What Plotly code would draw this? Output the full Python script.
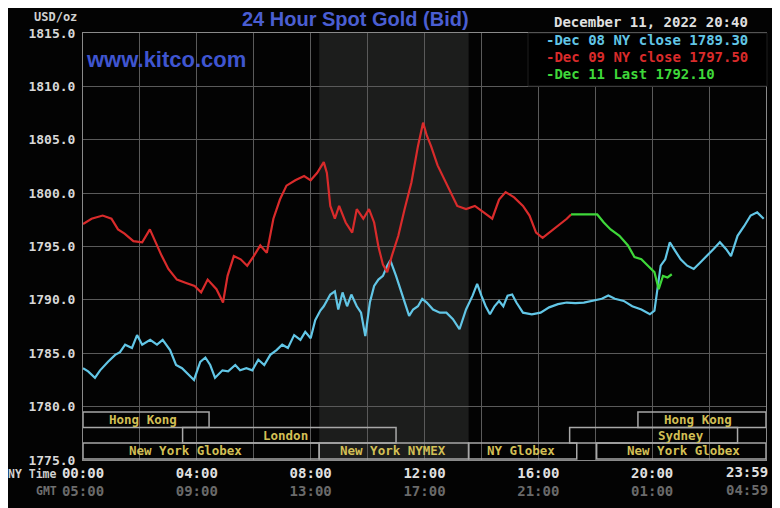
import plotly.graph_objects as go

# ---------------- data ----------------
cyan_h = [0.00, 0.18, 0.42, 0.60, 0.88, 1.13, 1.30, 1.48, 1.72, 1.90, 2.08, 2.36, 2.60, 2.80, 3.06, 3.27, 3.48, 3.70, 3.90,
          4.12, 4.30, 4.47, 4.64, 4.90, 5.10, 5.35, 5.52, 5.74, 5.95, 6.16, 6.37, 6.58, 6.80, 7.00, 7.20, 7.42, 7.64, 7.81,
          8.00, 8.16, 8.34, 8.46, 8.69, 8.85, 8.97, 9.12, 9.28, 9.43, 9.62, 9.77, 9.92, 10.08, 10.23, 10.38, 10.54, 10.69,
          10.80, 11.00, 11.15, 11.30, 11.46, 11.60, 11.77, 11.92, 12.08, 12.30, 12.54, 12.77, 13.00, 13.23, 13.46, 13.69,
          13.85, 14.00, 14.15, 14.30, 14.46, 14.62, 14.77, 14.92, 15.08, 15.23, 15.46, 15.77, 16.08, 16.38, 16.69, 17.00,
          17.30, 17.60, 17.90, 18.23, 18.46, 18.69, 19.00, 19.30, 19.62, 19.92, 20.08, 20.15, 20.30, 20.46, 20.62, 20.77,
          21.00, 21.23, 21.46, 21.69, 21.92, 22.15, 22.38, 22.60, 22.77, 23.00, 23.23, 23.46, 23.69, 23.92]
cyan_v = [1783.6, 1783.3, 1782.7, 1783.4, 1784.2, 1784.85, 1785.1, 1785.8, 1785.5, 1786.7, 1785.8, 1786.25, 1785.8, 1786.25,
          1785.3, 1783.9, 1783.6, 1783.0, 1782.5, 1784.2, 1784.6, 1783.9, 1782.7, 1783.4, 1783.3, 1783.9, 1783.4, 1783.6,
          1783.4, 1784.4, 1783.9, 1784.85, 1785.3, 1785.8, 1785.5, 1786.7, 1786.25, 1787.0, 1786.4, 1788.1, 1789.0, 1789.4,
          1790.5, 1790.8, 1789.1, 1790.7, 1789.4, 1790.5, 1789.4, 1788.8, 1786.6, 1789.75, 1791.3, 1791.9, 1792.25, 1793.2,
          1793.7, 1792.25, 1791.0, 1789.75, 1788.5, 1789.1, 1789.4, 1790.1, 1789.75, 1789.1, 1788.8, 1788.8, 1788.2, 1787.25,
          1789.1, 1790.4, 1791.5, 1790.4, 1789.4, 1788.65, 1789.4, 1789.9, 1789.4, 1790.4, 1790.5, 1789.75, 1788.8, 1788.65,
          1788.8, 1789.3, 1789.6, 1789.75, 1789.7, 1789.75, 1789.9, 1790.1, 1790.4, 1790.1, 1789.9, 1789.4, 1789.1, 1788.65,
          1789.0, 1790.4, 1793.2, 1793.8, 1795.4, 1794.75, 1793.8, 1793.2, 1792.9, 1793.5, 1794.1, 1794.75, 1795.4, 1794.75,
          1794.1, 1796.0, 1796.9, 1797.9, 1798.2, 1797.6]

red_h = [0.00, 0.30, 0.69, 1.00, 1.23, 1.46, 1.77, 2.08, 2.35, 2.54, 2.77, 3.00, 3.30, 3.60, 3.92, 4.15, 4.38, 4.69, 4.92,
         5.08, 5.30, 5.54, 5.77, 6.00, 6.23, 6.46, 6.69, 6.92, 7.15, 7.46, 7.77, 8.00, 8.23, 8.46, 8.57, 8.69, 8.85, 9.00,
         9.23, 9.46, 9.62, 9.85, 10.05, 10.23, 10.38, 10.54, 10.69, 10.85, 11.08, 11.30, 11.54, 11.77, 11.95, 12.08, 12.23,
         12.46, 12.69, 12.92, 13.15, 13.46, 13.77, 14.08, 14.38, 14.62, 14.85, 15.15, 15.46, 15.69, 15.92, 16.15, 16.38,
         16.69, 17.00, 17.15]
red_v = [1797.1, 1797.6, 1797.9, 1797.6, 1796.6, 1796.2, 1795.5, 1795.4, 1796.6, 1795.4, 1794.1, 1792.9, 1791.9, 1791.6,
         1791.3, 1790.7, 1791.9, 1791.0, 1789.75, 1792.25, 1794.1, 1793.8, 1793.2, 1794.1, 1795.1, 1794.4, 1797.6, 1799.4,
         1800.7, 1801.2, 1801.6, 1801.2, 1801.9, 1802.9, 1801.9, 1798.8, 1797.6, 1798.8, 1797.25, 1796.3, 1798.5, 1797.6,
         1798.5, 1797.25, 1795.0, 1793.3, 1792.6, 1794.1, 1796.0, 1798.5, 1801.0, 1804.4, 1806.6, 1805.4, 1804.4, 1802.6,
         1801.3, 1800.1, 1798.8, 1798.5, 1798.8, 1798.2, 1797.6, 1799.4, 1800.1, 1799.6, 1798.8, 1797.9, 1796.3, 1795.8,
         1796.3, 1796.9, 1797.6, 1798.0]

green_h = [17.15, 17.50, 17.80, 18.07, 18.30, 18.54, 18.85, 19.15, 19.38, 19.62, 19.85, 20.08, 20.23, 20.38, 20.54, 20.69]
green_v = [1798.0, 1798.0, 1798.0, 1798.0, 1797.25, 1796.6, 1796.0, 1795.1, 1794.0, 1793.8, 1793.2, 1792.6, 1791.0,
           1792.25, 1792.1, 1792.4]

y_ticks = [1775, 1780, 1785, 1790, 1795, 1800, 1805, 1810, 1815]
x_tick_hours = [0, 4, 8, 12, 16, 20]
x_tick_ny = ["00:00", "04:00", "08:00", "12:00", "16:00", "20:00"]
x_tick_gmt = ["05:00", "09:00", "13:00", "17:00", "21:00", "01:00"]
x_end_ny, x_end_gmt = "23:59", "04:59"

legend_lines = ["December 11, 2022 20:40", "-Dec 08 NY close 1789.30", "-Dec 09 NY close 1797.50", "-Dec 11 Last 1792.10"]

# sessions: name, start hour, end hour, row, label hour
sess_name = ["Hong Kong", "Hong Kong", "London", "Sydney", "New York Globex", "New York NYMEX", "NY Globex", "New York Globex"]
sess_start = [0.0, 19.5, 3.5, 17.1, 0.0, 8.3, 13.55, 18.05]
sess_end = [4.43, 24.0, 11.0, 23.0, 8.3, 13.55, 17.35, 24.0]
sess_row = [1, 1, 2, 2, 3, 3, 3, 3]
sess_label_at = [2.1, 21.6, 7.1, 21.0, 3.6, 10.9, 15.4, 21.1]

comex_start, comex_end = 8.3, 13.55

# ---------------- layout helpers ----------------
OFF = 8  # page body margin
W, H = 780 - OFF, 508 - OFF
L, R, T, B = 83 - OFF, 14, 33 - OFF, 48
PW, PH = W - L - R, H - T - B


def px(x):
    return (x - OFF - L) / PW


def py(y):
    return (H - B - (y - OFF)) / PH


row_bounds = {1: (1778.05, 1779.5), 2: (1776.6, 1778.05), 3: (1775.1, 1776.6)}

fig = go.Figure()

fig.add_trace(go.Scatter(x=cyan_h, y=cyan_v, mode="lines", line=dict(color="#62c6e6", width=2.2), name="Dec 08"))
fig.add_trace(go.Scatter(x=red_h, y=red_v, mode="lines", line=dict(color="#d92b2b", width=2.2), name="Dec 09"))
fig.add_trace(go.Scatter(x=green_h, y=green_v, mode="lines", line=dict(color="#3fd83a", width=2.2), name="Dec 11"))

shapes = []
shapes.append(dict(type="rect", xref="x", yref="y", x0=comex_start, x1=comex_end, y0=1775, y1=1815,
                   fillcolor="#1c1d1c", line=dict(width=0), layer="below"))
annotations = []
for n, s, e, r, la in zip(sess_name, sess_start, sess_end, sess_row, sess_label_at):
    y0, y1 = row_bounds[r]
    shapes.append(dict(type="rect", xref="x", yref="y", x0=s, x1=e, y0=y0, y1=y1,
                       line=dict(color="#a8a8a8", width=1.5), fillcolor="rgba(0,0,0,0)", layer="above"))
    annotations.append(dict(x=la, y=(y0 + y1) / 2, xref="x", yref="y", text=n, showarrow=False,
                            font=dict(family="DejaVu Sans Mono", size=12.5, color="#d2bf55", weight="bold")))
shapes.append(dict(type="rect", xref="paper", yref="paper", x0=px(528), x1=px(767), y0=py(86), y1=py(33),
                   fillcolor="#000000", line=dict(color="#1e1e1e", width=1), layer="above"))

leg_colors = ["#e0e0e0", "#62c6e6", "#d92b2b", "#3fd83a"]
leg_y = [22, 40, 57, 74]
leg_x = [552, 544, 544, 544]
for t, c, yy, xx in zip(legend_lines, leg_colors, leg_y, leg_x):
    annotations.append(dict(x=px(xx), y=py(yy), xref="paper", yref="paper", text=t, showarrow=False,
                            xanchor="left", yanchor="middle",
                            font=dict(family="DejaVu Sans Mono", size=14, color=c, weight="bold")))

annotations += [
    dict(x=px(355), y=py(19), xref="paper", yref="paper", text="24 Hour Spot Gold (Bid)", showarrow=False,
         xanchor="center", yanchor="middle",
         font=dict(family="Liberation Sans", size=20, color="#4a5ed2", weight="bold")),
    dict(x=px(84), y=py(60), xref="paper", yref="paper", text="www.kitco.com", showarrow=False,
         xanchor="left", yanchor="middle",
         font=dict(family="Liberation Sans", size=22, color="#3f55d0", weight="bold")),
    dict(x=px(79), y=py(17), xref="paper", yref="paper", text="USD/oz", showarrow=False,
         xanchor="right", yanchor="middle",
         font=dict(family="DejaVu Sans Mono", size=12, color="#d0d0d0", weight="bold")),
    dict(x=px(59), y=py(474), xref="paper", yref="paper", text="NY Time", showarrow=False,
         xanchor="right", yanchor="middle",
         font=dict(family="DejaVu Sans Mono", size=11.5, color="#d0d0d0", weight="bold")),
    dict(x=px(59), y=py(491), xref="paper", yref="paper", text="GMT", showarrow=False,
         xanchor="right", yanchor="middle",
         font=dict(family="DejaVu Sans Mono", size=11.5, color="#707070", weight="bold")),
    dict(x=px(770), y=py(472), xref="paper", yref="paper", text=x_end_ny, showarrow=False,
         xanchor="right", yanchor="middle",
         font=dict(family="DejaVu Sans Mono", size=14, color="#e0e0e0", weight="bold")),
    dict(x=px(770), y=py(490), xref="paper", yref="paper", text=x_end_gmt, showarrow=False,
         xanchor="right", yanchor="middle",
         font=dict(family="DejaVu Sans Mono", size=14, color="#6a6a6a", weight="bold")),
]

xt_text = [f"{a}<br><span style='color:#6a6a6a'>{b}</span>" for a, b in zip(x_tick_ny, x_tick_gmt)]

fig.update_layout(
    width=W, height=H,
    margin=dict(l=L, r=R, t=T, b=B, pad=0, autoexpand=False),
    paper_bgcolor="#030303", plot_bgcolor="#030303",
    showlegend=False,
    shapes=shapes, annotations=annotations,
    xaxis=dict(range=[0, 24], tickvals=x_tick_hours, ticktext=xt_text, showgrid=True, gridcolor="#5a5a5a", gridwidth=1,
               minor=dict(tickvals=list(range(2, 24, 4)), showgrid=True, gridcolor="#5a5a5a", gridwidth=1, ticks=""),
               zeroline=False, showline=True, linecolor="#8a8a8a", mirror=True, ticks="",
               automargin=False,
               tickfont=dict(family="DejaVu Sans Mono", size=14, color="#e0e0e0", weight="bold")),
    yaxis=dict(range=[1775, 1815], tickvals=y_ticks, ticktext=[f"{v:.1f}" for v in y_ticks], showgrid=True,
               gridcolor="#5a5a5a", gridwidth=1, zeroline=False, showline=True, linecolor="#8a8a8a", mirror=True,
               ticks="", ticklabelstandoff=4, automargin=False,
               tickfont=dict(family="DejaVu Sans Mono", size=13, color="#d8d8d8", weight="bold")),
)

fig.write_html("out.html")
